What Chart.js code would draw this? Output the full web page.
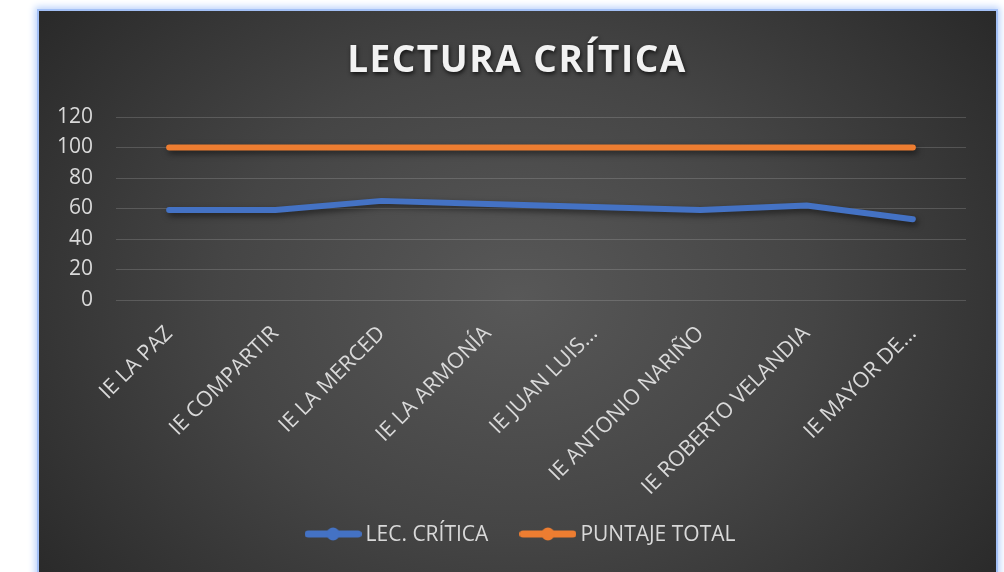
<!DOCTYPE html>
<html>
<head>
<meta charset="utf-8">
<script src="https://cdn.jsdelivr.net/npm/chart.js@4/dist/chart.umd.min.js"></script>
<style>
html,body{margin:0;padding:0;background:#ffffff;width:1004px;height:572px;overflow:hidden}
#frame{position:absolute;left:39px;top:11px;width:957px;height:600px;
  background:radial-gradient(ellipse 62% 78% at 50% 48%, #585858 0%, #454545 50%, #2a2a2a 100%);
  box-shadow:0 0 0 2px #a3c0f6, 0 0 7px 4px #b9d1fb;}
canvas{position:absolute;left:0;top:0}
</style>
</head>
<body>
<div id="frame"><canvas id="c" width="957" height="561"></canvas></div>
<script>
const chartTitle = 'LECTURA CRÍTICA';
const categories = ['IE LA PAZ','IE COMPARTIR','IE LA MERCED','IE LA ARMONÍA','IE JUAN LUIS...','IE ANTONIO NARIÑO','IE ROBERTO VELANDIA','IE MAYOR DE...'];
const lecCritica = [59, 59, 65, 63, 61, 59, 62, 53];
const puntajeTotal = [100, 100, 100, 100, 100, 100, 100, 100];
const seriesNames = ['LEC. CRÍTICA', 'PUNTAJE TOTAL'];
const yTicks = [0, 20, 40, 60, 80, 100, 120];

const BLUE = '#4472C4', ORANGE = '#ED7D31', TXT = '#d9d9d9';
const FONT = '"Open Sans", "Liberation Sans", sans-serif';

function marker(color){
  const c = document.createElement('canvas');
  c.width = 57; c.height = 16;
  const x = c.getContext('2d');
  x.strokeStyle = color; x.lineWidth = 7; x.lineCap = 'round';
  x.beginPath(); x.moveTo(3.5, 8); x.lineTo(53.5, 8); x.stroke();
  x.fillStyle = color; x.beginPath(); x.arc(28.5, 8, 6.5, 0, Math.PI*2); x.fill();
  return c;
}

const shadowPlugin = {
  id: 'lineShadow',
  beforeDatasetDraw(chart){ const c = chart.ctx; c.save(); c.shadowColor = 'rgba(0,0,0,0.55)'; c.shadowBlur = 6; c.shadowOffsetX = 2; c.shadowOffsetY = 3; },
  afterDatasetDraw(chart){ chart.ctx.restore(); }
};
const titlePlugin = {
  id: 'spacedTitle',
  afterDraw(chart){
    const c = chart.ctx; c.save();
    c.font = 'bold 37px ' + FONT;
    if ('letterSpacing' in c) c.letterSpacing = '1.5px';
    c.fillStyle = '#f2f2f2'; c.textAlign = 'center'; c.textBaseline = 'alphabetic';
    c.shadowColor = 'rgba(0,0,0,0.75)'; c.shadowBlur = 4; c.shadowOffsetX = 1; c.shadowOffsetY = 2;
    c.fillText(chartTitle, 478, 61);
    c.restore();
  }
};
const markers = [marker(BLUE), marker(ORANGE)];
const legendPlugin = {
  id: 'lineLegend',
  afterDraw(chart){
    const c = chart.ctx; c.save();
    c.font = '21px ' + FONT;
    c.textBaseline = 'middle'; c.textAlign = 'left'; c.fillStyle = TXT;
    const ds = chart.data.datasets;
    const mw = 57, gapText = 4, gapItem = 31;
    const widths = ds.map(d => mw + gapText + c.measureText(d.label).width);
    const total = widths.reduce((a, b) => a + b, 0) + gapItem * (ds.length - 1);
    let x = 481 - total / 2;
    const y = 523;
    ds.forEach((d, i) => {
      c.drawImage(markers[i], x, y - 8);
      c.fillText(d.label, x + mw + gapText, y + 1);
      x += widths[i] + gapItem;
    });
    c.restore();
  }
};

new Chart(document.getElementById('c'), {
  type: 'line',
  data: {
    labels: categories,
    datasets: [
      { label: seriesNames[0], data: lecCritica, borderColor: BLUE, backgroundColor: BLUE, borderWidth: 6,
        borderCapStyle: 'round', borderJoinStyle: 'round', pointRadius: 0, tension: 0 },
      { label: seriesNames[1], data: puntajeTotal, borderColor: ORANGE, backgroundColor: ORANGE, borderWidth: 6,
        borderCapStyle: 'round', borderJoinStyle: 'round', pointRadius: 0, tension: 0 }
    ]
  },
  options: {
    responsive: false,
    animation: false,
    devicePixelRatio: 1,
    layout: { padding: { top: 106, left: 0, right: 30, bottom: 0 } },
    plugins: {
      title: { display: false },
      tooltip: { enabled: false },
      legend: { display: false }
    },
    scales: {
      x: {
        offset: true,
        grid: { display: false, drawTicks: false },
        border: { display: false },
        ticks: { color: TXT, font: { family: FONT, size: 21.5 }, minRotation: 45, maxRotation: 45, autoSkip: false, padding: 21 },
        afterFit(s){ s.height = 272; }
      },
      y: {
        min: 0, max: 120,
        grid: { color: 'rgba(200,200,200,0.22)', lineWidth: 1, drawTicks: false },
        border: { display: false },
        ticks: { color: TXT, font: { family: FONT, size: 21 }, padding: 23, stepSize: 20 },
        afterBuildTicks(s){ s.ticks = yTicks.map(v => ({ value: v })); },
        afterFit(s){ s.width = 77; }
      }
    }
  },
  plugins: [shadowPlugin, titlePlugin, legendPlugin]
});
</script>
</body>
</html>
